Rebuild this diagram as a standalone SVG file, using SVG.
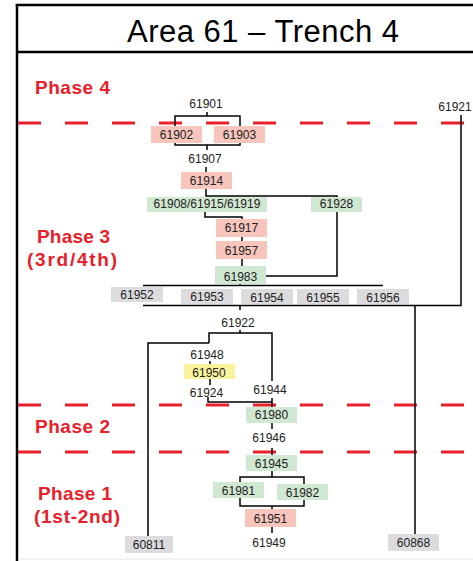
<svg xmlns="http://www.w3.org/2000/svg" width="473" height="561" viewBox="0 0 473 561">
<style>
.frame{stroke:#000;stroke-width:2.5;fill:none}
.phase-line{stroke:#E8202A;stroke-width:3;stroke-dasharray:23 24;fill:none}
.phase{font-family:"Liberation Sans",Arial,sans-serif;font-weight:bold;font-size:19px;fill:#E8202A;text-anchor:middle}
.title{font-family:"Liberation Sans",Arial,sans-serif;font-size:31px;fill:#000;text-anchor:middle}
.lbl{font-family:"Liberation Sans",Arial,sans-serif;font-size:12px;fill:#222;text-anchor:middle}
.conn{stroke:#000;stroke-width:1.5;fill:none}
.pink{fill:#F8C5BD}
.green{fill:#D0E7D2}
.grey{fill:#DCDCDE}
.yellow{fill:#FAF39E}
</style>
<rect x="0" y="0" width="473" height="561" fill="#fff"/>
<g id="frame">
<line class="frame" x1="15.8" y1="5" x2="473" y2="5"/>
<line class="frame" x1="17" y1="4" x2="17" y2="561"/>
<line class="frame" x1="17" y1="52" x2="473" y2="52"/>
<line x1="18" y1="559" x2="473" y2="559" stroke="#E6E6E6" stroke-width="1"/>
<text class="title" x="263" y="42" textLength="272">Area 61 – Trench 4</text>
</g>
<g id="phases">
<line class="phase-line" x1="18" y1="123" x2="473" y2="123"/>
<line class="phase-line" x1="18" y1="405" x2="473" y2="405"/>
<line class="phase-line" x1="18" y1="452" x2="473" y2="452"/>
<text class="phase" x="72.5" y="94" textLength="75">Phase 4</text>
<text class="phase" x="73.5" y="243" textLength="73">Phase 3</text>
<text class="phase" x="72" y="266" textLength="90">(3rd/4th)</text>
<text class="phase" x="72.5" y="433" textLength="75">Phase 2</text>
<text class="phase" x="75" y="500" textLength="74">Phase 1</text>
<text class="phase" x="77" y="523" textLength="86">(1st-2nd)</text>
</g>
<g id="connectors">
<path class="conn" d="M207,112 V116 M175,126 V116 H240 V126"/>
<path class="conn" d="M175,143 V145 H240 V143 M207,145 V150"/>
<path class="conn" d="M206,167 V172"/>
<path class="conn" d="M206,189 V196 H337 V197"/>
<path class="conn" d="M205,212 V217 H242 V219"/>
<path class="conn" d="M242,237 V241"/>
<path class="conn" d="M242,259 V266"/>
<path class="conn" d="M337,212 V276 H266"/>
<path class="conn" d="M240,284 V285.5 M143,285.5 H383"/>
<path class="conn" d="M143,305.5 H461 V115"/>
<path class="conn" d="M415,305.5 V534"/>
<path class="conn" d="M240,305.5 V310"/>
<path class="conn" d="M240,330 V333 M209,343 V333 H272 V381 M209,343 H148 V536"/>
<path class="conn" d="M210,361 V364 M210,379 V385"/>
<path class="conn" d="M208,397 V402 H272 V398 M272,402 V407"/>
<path class="conn" d="M272,423 V429 M272,448 V455"/>
<path class="conn" d="M272,471 V477 M240,482 V477 H304 V484"/>
<path class="conn" d="M240,498 V506 H304 V500 M272,506 V509"/>
<path class="conn" d="M272,527 V533"/>
</g>
<g id="n61901"><text class="lbl" x="206" y="108">61901</text></g>
<g id="n61921"><text class="lbl" x="455" y="111">61921</text></g>
<g id="n61902"><rect class="pink" x="151" y="126" width="51" height="17"/><text class="lbl" x="176.5" y="139">61902</text></g>
<g id="n61903"><rect class="pink" x="214" y="126" width="51" height="17"/><text class="lbl" x="239.5" y="139">61903</text></g>
<g id="n61907"><text class="lbl" x="205" y="163">61907</text></g>
<g id="n61914"><rect class="pink" x="181" y="172" width="51" height="17"/><text class="lbl" x="206.5" y="185">61914</text></g>
<g id="n61908"><rect class="green" x="147" y="197" width="120" height="15"/><text class="lbl" x="207" y="208">61908/61915/61919</text></g>
<g id="n61928"><rect class="green" x="311" y="197" width="51" height="15"/><text class="lbl" x="336.5" y="208">61928</text></g>
<g id="n61917"><rect class="pink" x="216" y="219" width="51" height="18"/><text class="lbl" x="241.5" y="232">61917</text></g>
<g id="n61957"><rect class="pink" x="216" y="241" width="51" height="18"/><text class="lbl" x="241.5" y="255">61957</text></g>
<g id="n61983"><rect class="green" x="215" y="266" width="51" height="18"/><text class="lbl" x="240.5" y="281">61983</text></g>
<g id="n61952"><rect class="grey" x="111" y="287" width="52" height="15"/><text class="lbl" x="137" y="299">61952</text></g>
<g id="n61953"><rect class="grey" x="181" y="289" width="52" height="15"/><text class="lbl" x="207" y="301">61953</text></g>
<g id="n61954"><rect class="grey" x="241" y="289" width="52" height="15"/><text class="lbl" x="267" y="302">61954</text></g>
<g id="n61955"><rect class="grey" x="297" y="289" width="52" height="15"/><text class="lbl" x="323" y="302">61955</text></g>
<g id="n61956"><rect class="grey" x="357" y="289" width="52" height="15"/><text class="lbl" x="383" y="302">61956</text></g>
<g id="n61922"><text class="lbl" x="238" y="327">61922</text></g>
<g id="n61948"><text class="lbl" x="207" y="359">61948</text></g>
<g id="n61950"><rect class="yellow" x="184" y="364" width="51" height="15"/><text class="lbl" x="209" y="377">61950</text></g>
<g id="n61924"><text class="lbl" x="206.5" y="397">61924</text></g>
<g id="n61944"><text class="lbl" x="270" y="394">61944</text></g>
<g id="n61980"><rect class="green" x="246" y="407" width="51" height="16"/><text class="lbl" x="271.5" y="419">61980</text></g>
<g id="n61946"><text class="lbl" x="269" y="442">61946</text></g>
<g id="n61945"><rect class="green" x="246" y="455" width="51" height="16"/><text class="lbl" x="271.5" y="468">61945</text></g>
<g id="n61981"><rect class="green" x="213" y="482" width="51" height="16"/><text class="lbl" x="238.5" y="495">61981</text></g>
<g id="n61982"><rect class="green" x="277" y="484" width="51" height="16"/><text class="lbl" x="302.5" y="497">61982</text></g>
<g id="n61951"><rect class="pink" x="245" y="509" width="51" height="18"/><text class="lbl" x="270.5" y="523">61951</text></g>
<g id="n61949"><text class="lbl" x="269" y="547">61949</text></g>
<g id="n60811"><rect class="grey" x="125" y="536" width="48" height="17"/><text class="lbl" x="149" y="549">60811</text></g>
<g id="n60868"><rect class="grey" x="388" y="534" width="51" height="17"/><text class="lbl" x="413.5" y="547">60868</text></g>
</svg>
